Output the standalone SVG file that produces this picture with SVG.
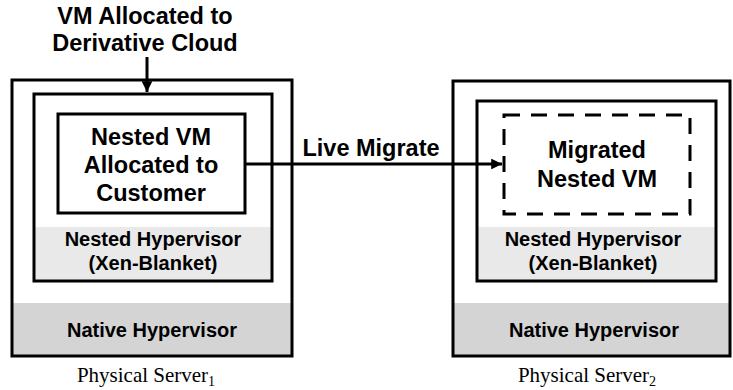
<svg xmlns="http://www.w3.org/2000/svg" width="733" height="390" viewBox="0 0 733 390">
<style>
.box{fill:none;stroke:#000;stroke-width:3}
.dash{fill:none;stroke:#000;stroke-width:3;stroke-dasharray:16 11}
.g1{fill:#e9e9e9}
.g2{fill:#d4d4d4}
.t{font-family:"Liberation Sans",Arial,sans-serif;font-weight:bold;fill:#000;text-anchor:middle}
.big{font-size:23.5px}
.mid{font-size:20px}
.cap{font-family:"Liberation Serif","Times New Roman",serif;font-size:21px;fill:#000;text-anchor:middle}
.conn{stroke:#000;stroke-width:3;fill:none}
</style>
<defs>
<marker id="ah" viewBox="0 0 10 10" refX="10" refY="5" markerWidth="5" markerHeight="3.6" markerUnits="strokeWidth" orient="auto">
<path d="M0,0 L10,5 L0,10 z" fill="#000"/>
</marker>
</defs>
<g id="label-top">
<text class="t big" x="145" y="24">VM Allocated to</text>
<text class="t big" x="145" y="51">Derivative Cloud</text>
</g>
<g id="server1">
<rect class="g2" x="12" y="303" width="280" height="53"/>
<rect class="box" x="12" y="80" width="280" height="276"/>
<text class="t mid" x="152" y="337">Native Hypervisor</text>
<text class="cap" x="146" y="382">Physical Server<tspan font-size="14" dy="4">1</tspan></text>
</g>
<g id="nested-hv1">
<rect class="g1" x="34" y="227" width="238" height="54"/>
<rect class="box" x="34" y="94" width="238" height="187"/>
<text class="t mid" x="153" y="246">Nested Hypervisor</text>
<text class="t mid" x="153" y="270">(Xen-Blanket)</text>
</g>
<g id="nested-vm">
<rect class="box" x="58" y="114" width="187" height="99" fill="#fff"/>
<text class="t big" x="151" y="145">Nested VM</text>
<text class="t big" x="151" y="173">Allocated to</text>
<text class="t big" x="151" y="201">Customer</text>
</g>
<g id="server2">
<rect class="g2" x="453" y="303" width="277" height="53"/>
<rect class="box" x="453" y="81" width="277" height="275"/>
<text class="t mid" x="594" y="337">Native Hypervisor</text>
<text class="cap" x="587" y="382">Physical Server<tspan font-size="14" dy="4">2</tspan></text>
</g>
<g id="nested-hv2">
<rect class="g1" x="477" y="227" width="239" height="54"/>
<rect class="box" x="477" y="101" width="239" height="180"/>
<text class="t mid" x="593" y="246">Nested Hypervisor</text>
<text class="t mid" x="593" y="270">(Xen-Blanket)</text>
</g>
<g id="migrated-vm">
<rect class="dash" x="504" y="115" width="186" height="99"/>
<text class="t big" x="597" y="158">Migrated</text>
<text class="t big" x="597" y="187">Nested VM</text>
</g>
<g id="connectors">
<line class="conn" x1="147" y1="57" x2="147" y2="92" marker-end="url(#ah)"/>
<line class="conn" x1="245" y1="164" x2="502" y2="164" marker-end="url(#ah)"/>
<text class="t big" x="371" y="156">Live Migrate</text>
</g>
</svg>
